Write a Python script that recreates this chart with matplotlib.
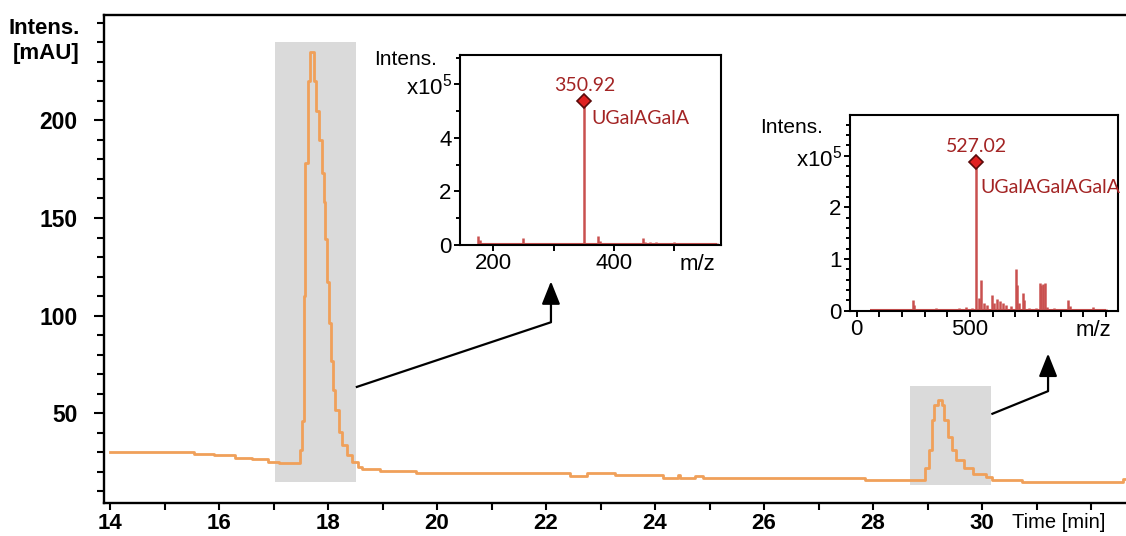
import matplotlib
matplotlib.use("Agg")
import matplotlib.pyplot as plt
from matplotlib.patches import Rectangle
from matplotlib.ticker import FixedLocator, MultipleLocator

plt.rcParams['font.family'] = ['Liberation Sans', 'DejaVu Sans']
plt.rcParams['mathtext.default'] = 'regular'

# chromatogram (UV trace)
time_min = [14.0, 15.54, 15.9, 16.3, 16.6, 16.9, 17.1, 17.49, 17.53, 17.56, 17.58,
            17.63, 17.67, 17.75, 17.78, 17.83, 17.89, 17.92, 17.95, 17.98, 18.01,
            18.06, 18.10, 18.13, 18.20, 18.26, 18.35, 18.44, 18.55, 18.63, 18.96,
            19.61, 22.44, 22.75, 23.27, 24.15, 24.42, 24.46, 24.73, 24.88, 27.85,
            28.95, 29.03, 29.08, 29.12, 29.20, 29.26, 29.31, 29.37, 29.44, 29.53,
            29.66, 29.84, 30.08, 30.18, 30.73, 32.59, 32.7]
intens_mau = [30, 29.2, 28.5, 27.1, 26.3, 25.1, 24.5, 31, 46, 110, 178,
              220, 235, 220, 205, 190, 173, 158, 139, 117, 96,
              77, 62, 51.5, 40.5, 33.6, 28.5, 24.8, 22.4, 21.2, 20.3,
              19.2, 17.9, 19.3, 18.3, 16.8, 18.2, 16.8, 18.0, 16.9, 15.7,
              21.9, 31, 46.4, 54, 56.6, 54, 46.4, 38, 31, 26,
              21.7, 18.8, 17.1, 16.0, 14.9, 16.5, 16.5]
time_labels = [14, 16, 18, 20, 22, 24, 26, 28, 30]

# highlighted regions (t0, t1, y0, y1)
box1 = (17.03, 18.51, 15, 240)
box2 = (28.68, 30.17, 13, 64)

# MS spectrum 1 (m/z, intensity x1e5)
ms1_mz = [175, 178, 250, 283, 291, 350.92, 374, 377, 390, 435, 440, 448, 452,
          460, 465, 470, 478, 485, 492, 500, 508, 515, 522, 530, 540, 550, 560, 570]
ms1_int = [0.35, 0.2, 0.25, 0.05, 0.06, 5.38, 0.35, 0.15, 0.06, 0.04, 0.06, 0.28, 0.1,
           0.1, 0.08, 0.12, 0.08, 0.09, 0.07, 0.1, 0.06, 0.08, 0.05, 0.07, 0.06, 0.07, 0.05, 0.06]
ms1_peak = (350.92, 5.38, "350.92", "UGalAGalA")
ms1_xlabels = [200, 400]

# MS spectrum 2
ms2_mz = [60, 120, 150, 200, 247, 252, 300, 350, 400, 450, 480, 510, 527.02, 540, 548,
          560, 575, 595, 605, 617, 630, 645, 660, 680, 701, 708, 718, 732, 740, 760,
          790, 809, 815, 822, 831, 840, 870, 900, 932, 940, 980, 1043, 1080, 1100]
ms2_int = [0.02, 0.04, 0.03, 0.04, 0.2, 0.12, 0.04, 0.05, 0.04, 0.05, 0.08, 0.06, 2.88, 0.25, 0.6,
           0.15, 0.12, 0.3, 0.15, 0.22, 0.18, 0.15, 0.12, 0.1, 0.8, 0.5, 0.15, 0.35, 0.2, 0.06,
           0.05, 0.53, 0.5, 0.52, 0.53, 0.08, 0.05, 0.04, 0.2, 0.1, 0.04, 0.07, 0.03, 0.04]
ms2_peak = (527.02, 2.88, "527.02", "UGalAGalAGalA")
ms2_xlabels = [0, 500]

orange = '#F0A05A'
ms_red = '#C9504F'
txt_red = '#A32424'
grey = '#DADADA'

fig = plt.figure(figsize=(11.26, 5.36), dpi=100)
ax = fig.add_axes([104/1126, 33/536, 1 - 104/1126, 488/536])
ax.set_xlim(13.89, 32.64)
ax.set_ylim(4, 254)

for b in (box1, box2):
    ax.add_patch(Rectangle((b[0], b[2]), b[1]-b[0], b[3]-b[2], color=grey, lw=0, zorder=1))
ax.plot(time_min, intens_mau, drawstyle='steps-post', color=orange, lw=2, zorder=3)

ax.spines['right'].set_visible(False)
for s in ('left', 'bottom', 'top'):
    ax.spines[s].set_linewidth(1.7)
ax.yaxis.set_major_locator(FixedLocator([50, 100, 150, 200]))
ax.yaxis.set_minor_locator(MultipleLocator(10))
ax.xaxis.set_major_locator(FixedLocator(time_labels))
ax.xaxis.set_minor_locator(MultipleLocator(1))
ax.tick_params(axis='y', which='major', length=7, width=1.5, pad=12, labelsize=16.5)
ax.tick_params(axis='y', which='minor', length=5, width=1.5)
ax.tick_params(axis='x', which='both', length=5, width=1.5, pad=2, labelsize=16)
for lab in ax.get_xticklabels() + ax.get_yticklabels():
    lab.set_fontweight('bold')

fig.text(80/1126, 1 - 41/536, "Intens.\n[mAU]", ha='right', va='center',
         fontsize=16, fontweight='bold', linespacing=1.25)
fig.text(1059/1126, 1 - 523/536, "Time [min]", ha='center', va='center', fontsize=14.5)

# connector arrows from the highlighted regions to the spectra
arrows = [(box1[1], 63.3, 22.09, 96.6, 119),
          (box2[1], 49.5, 31.21, 61.3, 82)]
for x0, y0, xe, ye, ytip in arrows:
    ax.plot([x0, xe, xe], [y0, ye, ytip - 6], color='k', lw=1.6, zorder=4,
            solid_capstyle='butt')
    ax.annotate('', xy=(xe, ytip), xytext=(xe, ytip - 8),
                arrowprops=dict(arrowstyle='-|>,head_length=0.7,head_width=0.28',
                                color='k', lw=1.6, mutation_scale=20), zorder=4)


def ms_inset(rect, mz, inten, peak, xlim, ylim, xlabels, xmin, ymaj, ymin, ylabels,
             lab_dy, name_dx, name_dy, intens_xy, mz_x):
    ia = fig.add_axes(rect)
    ia.set_xlim(*xlim)
    ia.set_ylim(*ylim)
    ia.hlines(0.02, min(mz), max(mz), color=ms_red, lw=1.5)
    ia.vlines(mz, 0, inten, color=ms_red, lw=1.8)
    pmz, pint, plab, pname = peak
    ia.plot([pmz], [pint], marker='D', ms=7, mfc='#E02020', mec='#5A0A0A', mew=1.2,
            zorder=5, clip_on=False)
    ia.text(pmz, pint + lab_dy, plab, ha='center', va='bottom', color=txt_red,
            fontsize=14, family=['Lato', 'DejaVu Sans'])
    ia.text(pmz + name_dx, pint - name_dy, pname, ha='left', va='center', color=txt_red,
            fontsize=14, family=['Lato', 'DejaVu Sans'], clip_on=False)
    for s in ia.spines.values():
        s.set_linewidth(1.5)
    ia.xaxis.set_major_locator(FixedLocator(xlabels))
    ia.xaxis.set_minor_locator(MultipleLocator(xmin))
    ia.set_yticks(ymaj)
    ia.set_yticklabels(ylabels)
    ia.yaxis.set_minor_locator(MultipleLocator(ymin))
    ia.tick_params(which='both', length=4, width=1.4, labelsize=16, pad=2)
    ia.tick_params(axis='y', which='minor', length=3)
    ia.text(intens_xy[0], intens_xy[1], "Intens.", transform=ia.transAxes,
            ha='right', va='center', fontsize=15)
    ia.text(mz_x, -0.1, "m/z", transform=ia.transAxes, ha='center', va='center',
            fontsize=16)
    return ia


ms_inset([460/1126, 1 - 245/536, 261/1126, 190/536], ms1_mz, ms1_int, ms1_peak,
         (145, 577), (0, 7.1), ms1_xlabels, 100, [0, 2, 4, 6], 1, ['0', '2', '4', 'x10$^5$'],
         0.25, 12, 0.64, (-0.09, 0.975), 0.91)
ms_inset([850/1126, 1 - 310.7/536, 268/1126, 195.7/536], ms2_mz, ms2_int, ms2_peak,
         (-30, 1153), (0, 3.79), ms2_xlabels, 100, [0, 1, 2, 3], 0.2, ['0', '1', '2', 'x10$^5$'],
         0.13, 18, 0.5, (-0.1, 0.935), 0.91)

fig.savefig("out.png", dpi=100)
